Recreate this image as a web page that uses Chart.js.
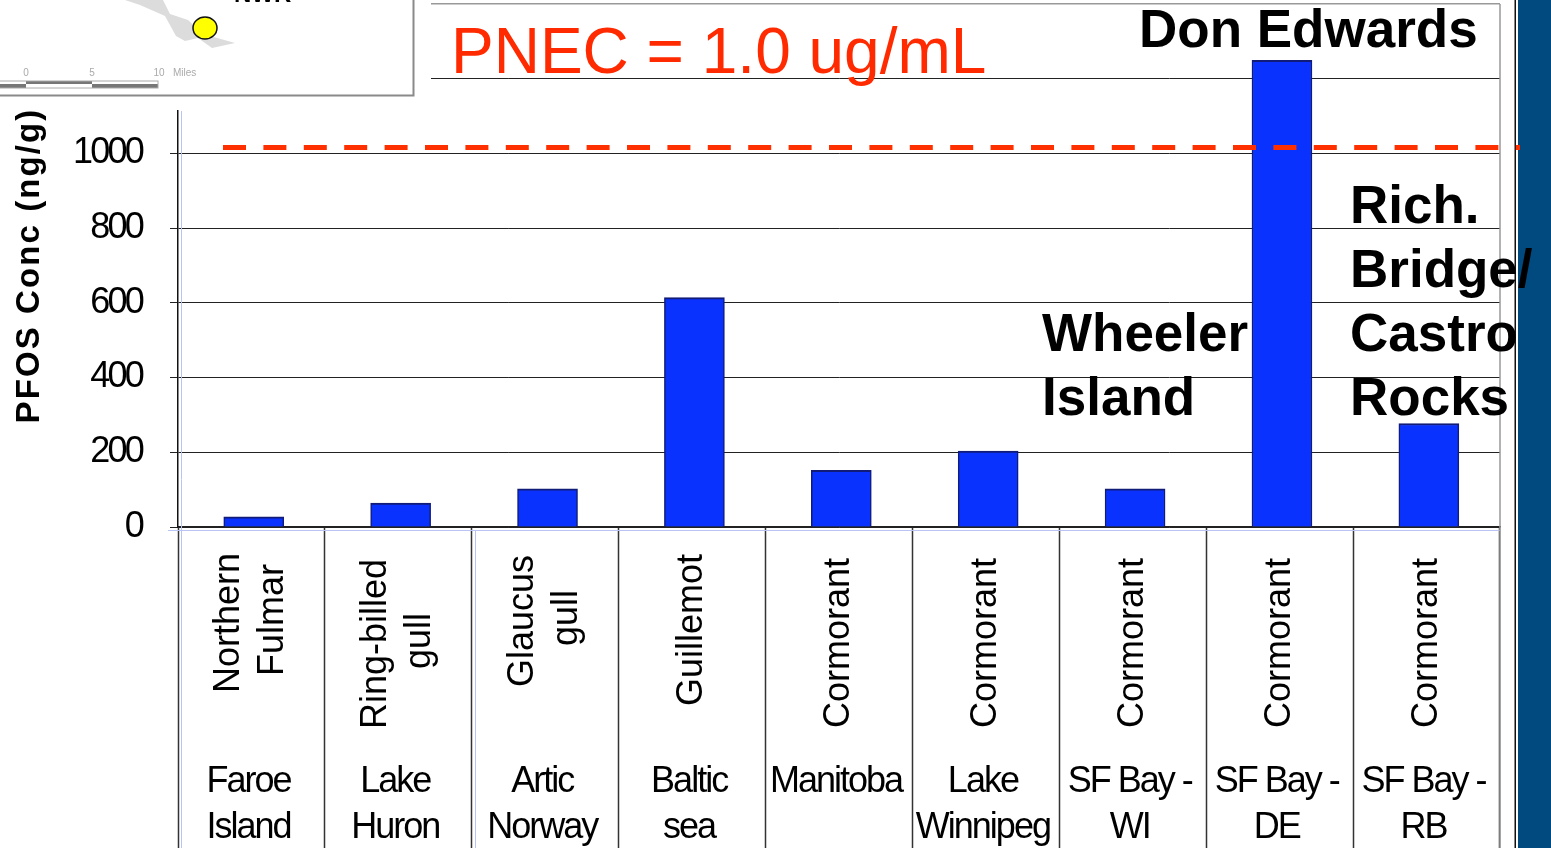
<!DOCTYPE html>
<html>
<head>
<meta charset="utf-8">
<title>PFOS in birds</title>
<style>
  html, body { margin:0; padding:0; background:#fff; overflow:hidden; }
  canvas { display:block; }
</style>
<script src="https://cdn.jsdelivr.net/npm/chart.js@4"></script>
</head>
<body>
<canvas id="chart" width="1551" height="848"></canvas>
<script>
// Data
const species = [['Northern','Fulmar'],['Ring-billed','gull'],['Glaucus','gull'],['Guillemot'],['Cormorant'],['Cormorant'],['Cormorant'],['Cormorant'],['Cormorant']];
const places = [['Faroe','Island'],['Lake','Huron'],['Artic','Norway'],['Baltic','sea'],['Manitoba'],['Lake','Winnipeg'],['SF Bay -','WI'],['SF Bay -','DE'],['SF Bay -','RB']];
const pfos = [27, 64, 102, 614, 152, 203, 102, 1249, 277];
const pnecLine = 1016;
const yTicks = [0, 200, 400, 600, 800, 1000, 1200, 1400];
const yLabelled = [0, 200, 400, 600, 800, 1000];

const FONT = '"Liberation Sans", Arial, sans-serif';
const speciesMid = [623, 644, 621, 630, 643, 643, 643, 643, 643];

function text(ctx, str, x, y, font, color, align){
  ctx.font = font; ctx.fillStyle = color; ctx.textAlign = align || 'left'; ctx.textBaseline = 'alphabetic';
  ctx.fillText(str, x, y);
}

const panel = {
  id: 'panel',
  beforeDraw(chart){
    const ctx = chart.ctx;
    ctx.save();
    ctx.fillStyle = '#fff'; ctx.fillRect(0,0,1551,848);
    ctx.fillStyle = '#004a7f'; ctx.fillRect(1518,0,33,848);
    ctx.fillStyle = '#111'; ctx.fillRect(1514.5,0,1.5,848);
    ctx.restore();
    ctx.letterSpacing = '2.1px'; // axis title runs long in the original
  },
  beforeDatasetsDraw(chart){
    // bars sit a touch right of the category centres in the original
    chart.ctx.save();
    chart.ctx.translate(2.3, 0);
  },
  afterDatasetsDraw(chart){
    chart.ctx.restore();
    chart.ctx.letterSpacing = '-2.8px'; // squeezed value labels, ticks are z:1
  },
  afterDraw(chart){
    const ctx = chart.ctx, x = chart.scales.x, y = chart.scales.y, area = chart.chartArea;
    ctx.save();
    ctx.letterSpacing = '0px';

    // faint guide lines next to the axes
    ctx.strokeStyle = '#b9c4f5'; ctx.lineWidth = 1;
    ctx.beginPath();
    ctx.moveTo(168, area.bottom+3.5); ctx.lineTo(area.right, area.bottom+3.5);
    ctx.moveTo(area.left+3.5, 111); ctx.lineTo(area.left+3.5, 848);
    ctx.moveTo(475.5, area.bottom+3); ctx.lineTo(475.5, 848);
    ctx.stroke();

    // gray frame on the right
    ctx.strokeStyle = '#999'; ctx.lineWidth = 1.5;
    ctx.beginPath(); ctx.moveTo(area.right, area.top); ctx.lineTo(area.right, 848); ctx.stroke();

    // PNEC dashed line, over the bars
    const py = y.getPixelForValue(pnecLine);
    ctx.strokeStyle = '#ff3000'; ctx.lineWidth = 5; ctx.setLineDash([23, 17.4]);
    ctx.beginPath(); ctx.moveTo(223, py); ctx.lineTo(1520, py); ctx.stroke();
    ctx.setLineDash([]);

    // species (rotated) and place names
    species.forEach((lines, i) => {
      const cx = x.getPixelForValue(i) - 2;
      lines.forEach((s, k) => {
        const bx = cx + 12 + (k - (lines.length-1)/2)*44;
        ctx.save();
        ctx.translate(bx, speciesMid[i] - (lines.length > 1 && k == 1 ? 3 : 0));
        ctx.rotate(-Math.PI/2);
        text(ctx, s, 0, 0, '36px '+FONT, '#000', 'center');
        ctx.restore();
      });
    });
    ctx.letterSpacing = '-2px';
    places.forEach((lines, i) => {
      const cx = x.getPixelForValue(i) - 3;
      lines.forEach((s, k) => text(ctx, s, cx, 792 + k*46, '36px '+FONT, '#000', 'center'));
    });
    ctx.letterSpacing = '0px';

    // notes on the plot
    text(ctx, 'PNEC = 1.0 ug/mL', 451, 73, '64px '+FONT, '#ff2a00');
    const bold = 'bold 53px '+FONT;
    text(ctx, 'Don Edwards', 1139, 47, bold, '#000');
    text(ctx, 'Wheeler', 1042, 351, bold, '#000');
    text(ctx, 'Island', 1042, 415, bold, '#000');
    text(ctx, 'Rich.', 1350, 223, bold, '#000');
    text(ctx, 'Bridge/', 1350, 287, bold, '#000');
    text(ctx, 'Castro', 1350, 351, bold, '#000');
    text(ctx, 'Rocks', 1350, 415, bold, '#000');

    // site map inset, covers the top left of the plot
    ctx.fillStyle = '#fff'; ctx.fillRect(0,0,431,110);
    ctx.fillStyle = '#dcdcdc';
    ctx.beginPath();
    ctx.moveTo(125,0); ctx.lineTo(163,0); ctx.lineTo(170,14); ctx.lineTo(188,20); ctx.lineTo(203,34);
    ctx.lineTo(235,43); ctx.lineTo(212,48); ctx.lineTo(198,38); ctx.lineTo(185,41); ctx.lineTo(176,36);
    ctx.lineTo(165,16); ctx.lineTo(140,5);
    ctx.closePath(); ctx.fill();
    ctx.fillStyle = '#ffff00'; ctx.strokeStyle = '#111'; ctx.lineWidth = 1.5;
    ctx.beginPath(); ctx.ellipse(205, 28, 12, 11, 0, 0, Math.PI*2); ctx.fill(); ctx.stroke();
    text(ctx, 'NWR', 234, 2, 'bold 24px '+FONT, '#000');
    text(ctx, '0', 26, 76, '10px '+FONT, '#aaa', 'center');
    text(ctx, '5', 92, 76, '10px '+FONT, '#aaa', 'center');
    text(ctx, '10', 159, 76, '10px '+FONT, '#aaa', 'center');
    text(ctx, 'Miles', 173, 76, '10px '+FONT, '#aaa');
    ctx.fillStyle = '#777';
    ctx.fillRect(0,84,26,4); ctx.fillRect(26,81,66,3); ctx.fillRect(92,84,66,4);
    ctx.strokeStyle = '#aaa'; ctx.lineWidth = 1; ctx.strokeRect(-1,81,159,7);
    ctx.strokeStyle = '#8a8a8a'; ctx.lineWidth = 2;
    ctx.beginPath(); ctx.moveTo(413.5,0); ctx.lineTo(413.5,95.5); ctx.lineTo(0,95.5); ctx.stroke();
    ctx.restore();
  }
};

new Chart(document.getElementById('chart'), {
  type: 'bar',
  data: {
    labels: species.map(s => s.join(' ')),
    datasets: [{
      data: pfos,
      backgroundColor: '#0a32ff',
      borderColor: '#101c78',
      borderWidth: {top:2, left:1.5, right:1.5, bottom:0},
      borderSkipped: false,
      barThickness: 60
    }]
  },
  options: {
    responsive: false,
    animation: false,
    layout: { padding: { left:0, right:51, top:4, bottom:0 } },
    plugins: { legend:{display:false}, tooltip:{enabled:false} },
    scales: {
      x: {
        afterFit(s){ s.height = 321; s.paddingLeft = 0; s.paddingRight = 0; },
        ticks: { display:false },
        border: { color:'#222', width:1.5 },
        grid: { drawOnChartArea:false, tickLength:321, color:'#333', tickWidth:1.5, offset:true }
      },
      y: {
        min: 0, max: 1400,
        afterFit(s){ s.width = 178; s.paddingTop = 0; s.paddingBottom = 0; },
        afterBuildTicks(s){ s.ticks = yTicks.map(v => ({value:v})); },
        title: {
          display:true, text:'PFOS Conc (ng/g)', color:'#000',
          font:{family:FONT, size:33, weight:'bold'}, padding:{top:10, bottom:0}
        },
        ticks: {
          z:1, color:'#000', padding:28, font:{family:FONT, size:36},
          callback: v => yLabelled.includes(v) ? String(v) : ''
        },
        border: { color:'#111', width:1.5 },
        grid: {
          tickLength:8,
          color: c => c.tick && c.tick.value == 1400 ? '#999' : '#222',
          lineWidth: c => c.tick && c.tick.value == 1400 ? 1.5 : 1
        }
      }
    }
  },
  plugins: [panel]
});
</script>
</body>
</html>
